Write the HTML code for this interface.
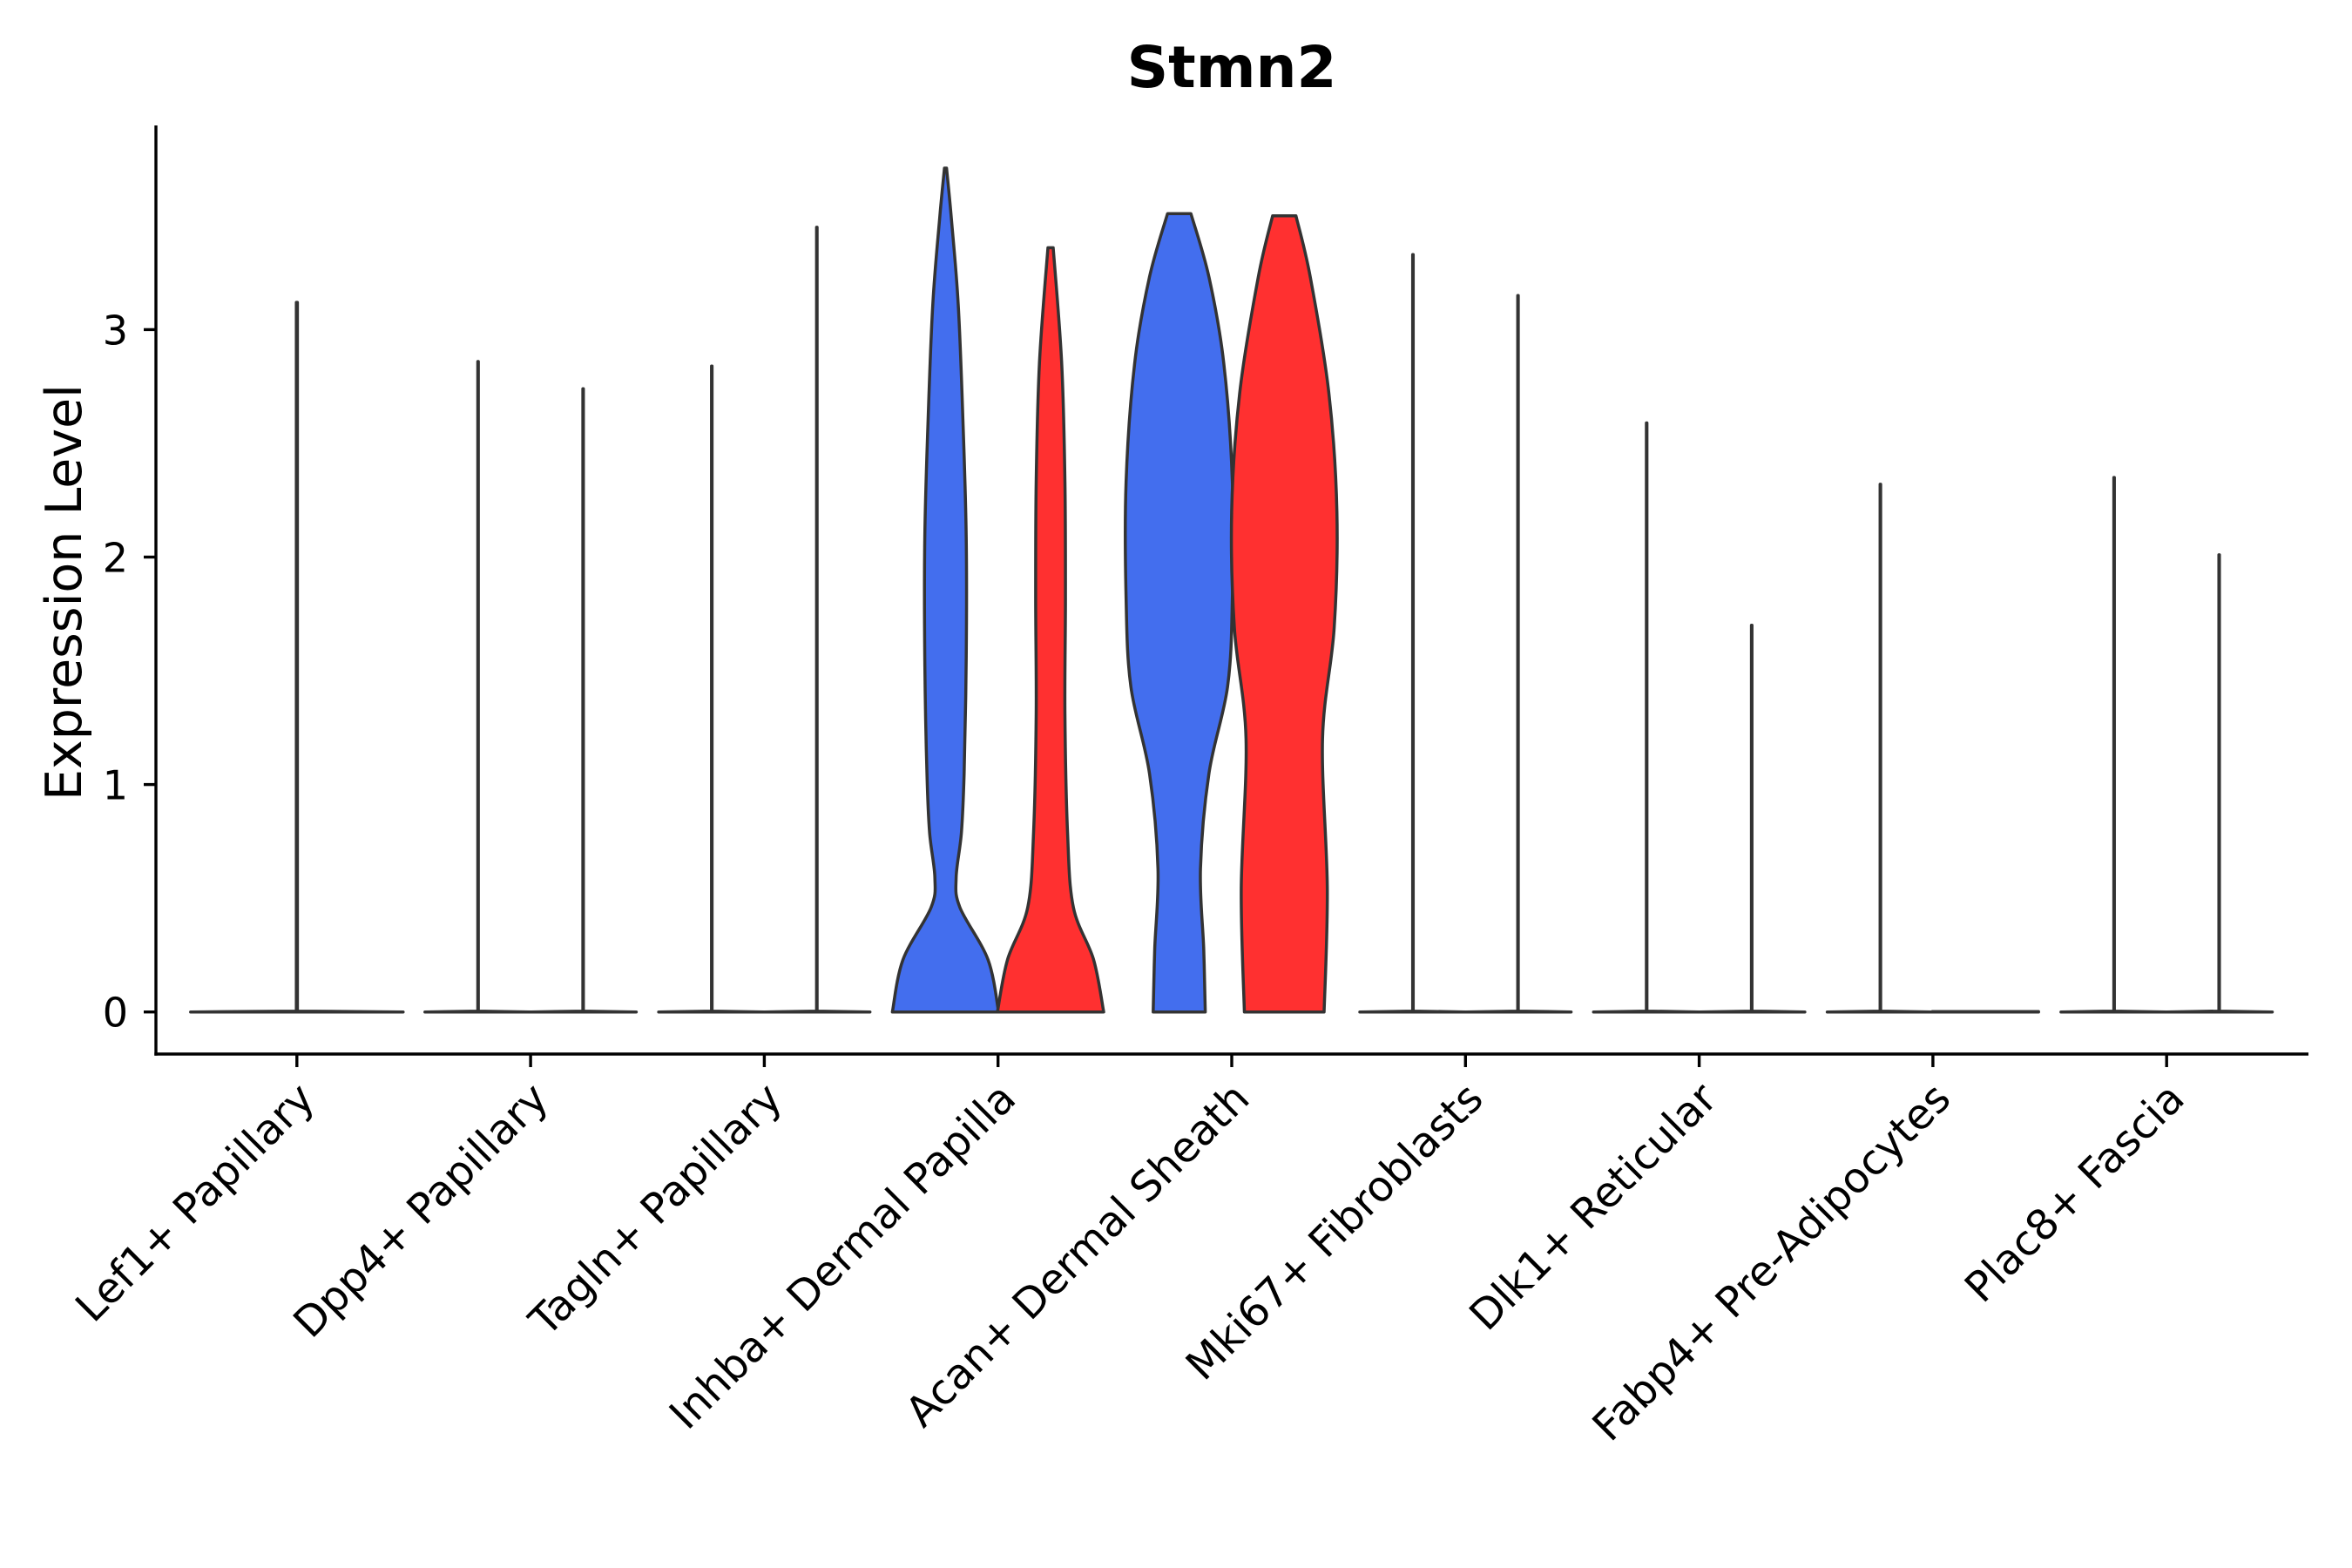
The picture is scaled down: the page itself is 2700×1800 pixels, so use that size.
<!DOCTYPE html>
<html><head><meta charset="utf-8"><style>
html,body{margin:0;padding:0;background:#fff;}
svg{display:block;font-family:"DejaVu Sans","Liberation Sans",sans-serif;}
</style></head><body>
<svg id="chart" width="2700" height="1800" viewBox="0 0 2700 1800">
<text x="1414" y="100" text-anchor="middle" font-size="66" font-weight="bold" fill="#000">Stmn2</text>
<text transform="translate(93,680) rotate(-90)" text-anchor="middle" font-size="57" fill="#000">Expression Level</text>
<g id="violins"></g>
<g id="axes"></g>
</svg>
<script>
const categories=["Lef1+ Papillary","Dpp4+ Papillary","Tagln+ Papillary","Inhba+ Dermal Papilla","Acan+ Dermal Sheath","Mki67+ Fibroblasts","Dlk1+ Reticular","Fabp4+ Pre-Adipocytes","Plac8+ Fascia"];
const yTicks=[0,1,2,3];
// max expression of thin violins: [group1, group2] (null = no group)
const thinMax=[[3.12,null],[2.86,2.74],[2.84,3.45],[null,null],[null,null],[3.33,3.15],[2.59,1.70],[2.32,0],[2.35,2.01]];
// full violin shapes (values, normalized half widths)
const inhbaBlueV=[0,0.23,0.46,0.59,0.79,1.05,1.56,2.08,2.59,3.11,3.49,3.71];
const inhbaBlueW=[1.0,0.80,0.27,0.2,0.30,0.35,0.39,0.39,0.33,0.24,0.11,0.02];
const inhbaRedV=[0,0.23,0.46,0.79,1.31,1.82,2.33,2.85,3.36];
const inhbaRedW=[1.0,0.81,0.43,0.32,0.27,0.28,0.27,0.21,0.05];
const acanBlueV=[0,0.28,0.63,1.05,1.43,1.82,2.33,2.85,3.23,3.51];
const acanBlueW=[0.49,0.46,0.40,0.56,0.91,1.0,1.0,0.84,0.56,0.22];
const acanRedV=[0,0.54,1.2,1.69,2.2,2.72,3.23,3.5];
const acanRedW=[0.75,0.81,0.72,0.94,0.99,0.84,0.49,0.22];

const NS="http://www.w3.org/2000/svg";
const X0=179,X1=2650,Y_TOP=144,Y_BOT=1210;
const yScale=v=>1161.7-v*261.1;
const xCat=i=>340.8+i*268.3;
const DODGE=60.3;
const BLUE="#436EEE", RED="#FF3030";

function smoothSide(pts){
  let d="";
  for(let i=0;i<pts.length-1;i++){
    const p0=pts[Math.max(0,i-1)],p1=pts[i],p2=pts[i+1],p3=pts[Math.min(pts.length-1,i+2)];
    const c1=[p1[0]+(p2[0]-p0[0])/6,p1[1]+(p2[1]-p0[1])/6];
    const c2=[p2[0]-(p3[0]-p1[0])/6,p2[1]-(p3[1]-p1[1])/6];
    d+=` C${c1[0].toFixed(1)},${c1[1].toFixed(1)} ${c2[0].toFixed(1)},${c2[1].toFixed(1)} ${p2[0].toFixed(1)},${p2[1].toFixed(1)}`;
  }
  return d;
}
function violinPath(cx,vals,wids,smooth,half){
  const L=vals.map((v,i)=>[cx-wids[i]*half,yScale(v)]);
  const R=vals.map((v,i)=>[cx+wids[i]*half,yScale(v)]).reverse();
  let d=`M${L[0][0].toFixed(1)},${L[0][1].toFixed(1)}`;
  if(smooth){d+=smoothSide(L);d+=` L${R[0][0].toFixed(1)},${R[0][1].toFixed(1)}`;d+=smoothSide(R);}
  else{L.slice(1).concat(R).forEach(p=>d+=` L${p[0].toFixed(1)},${p[1].toFixed(1)}`);}
  return d+" Z";
}
const vg=document.getElementById("violins");
function addViolin(cx,vals,wids,fill,name,smooth,half){
  const p=document.createElementNS(NS,"path");
  p.setAttribute("d",violinPath(cx,vals,wids,smooth,half||61));
  p.setAttribute("fill",fill);p.setAttribute("stroke","#333");p.setAttribute("stroke-width","3.5");
  p.setAttribute("stroke-linejoin","round");p.setAttribute("stroke-linecap","round");
  
  
  vg.appendChild(p);
}
thinMax.forEach((pair,i)=>{
  const single=pair[1]===null&&pair[0]!==null;
  pair.forEach((m,g)=>{
    if(m===null)return;
    const cx=single?xCat(i):xCat(i)+(g===0?-DODGE:DODGE);
    const vals=m>0.05?[0,0.004,m]:[0,0.002];
    const wids=m>0.05?[1,0.005,0.005]:[1,1];
    addViolin(cx,vals,wids,g===0?BLUE:RED,"violin-thin",false,single?122:61);
  });
});
addViolin(xCat(3)-DODGE,inhbaBlueV,inhbaBlueW,BLUE,"violin-inhba-blue",true);
addViolin(xCat(3)+DODGE,inhbaRedV,inhbaRedW,RED,"violin-inhba-red",true);
addViolin(xCat(4)-DODGE,acanBlueV,acanBlueW,BLUE,"violin-acan-blue",true);
addViolin(xCat(4)+DODGE,acanRedV,acanRedW,RED,"violin-acan-red",true);

const ag=document.getElementById("axes");
function line(x1,y1,x2,y2,name){
  const l=document.createElementNS(NS,"line");
  l.setAttribute("x1",x1);l.setAttribute("y1",y1);l.setAttribute("x2",x2);l.setAttribute("y2",y2);
  l.setAttribute("stroke","#000");l.setAttribute("stroke-width","3.4");
  
  
  ag.appendChild(l);
}
line(X0,Y_TOP,X0,Y_BOT+1.7,"y-axis-line");
line(X0-1.7,Y_BOT,X1,Y_BOT,"x-axis-line");
yTicks.forEach(t=>{
  const y=yScale(t);
  line(X0-14,y,X0,y,"y-tick");
  const tx=document.createElementNS(NS,"text");
  tx.setAttribute("x",X0-32);tx.setAttribute("y",y+17);tx.setAttribute("text-anchor","end");
  tx.setAttribute("font-size","46");tx.setAttribute("fill","#000");
  tx.textContent=t;
  
  
  ag.appendChild(tx);
});
categories.forEach((c,i)=>{
  const x=xCat(i);
  line(x,Y_BOT,x,Y_BOT+15,"x-tick");
  const tx=document.createElementNS(NS,"text");
  tx.setAttribute("transform",`translate(${x-3},${Y_BOT+28}) rotate(-45)`);
  tx.setAttribute("text-anchor","end");tx.setAttribute("font-size","48");tx.setAttribute("fill","#000");
  tx.setAttribute("dy","0.76em");
  tx.textContent=c;
  
  
  ag.appendChild(tx);
});
</script>
</body></html>
